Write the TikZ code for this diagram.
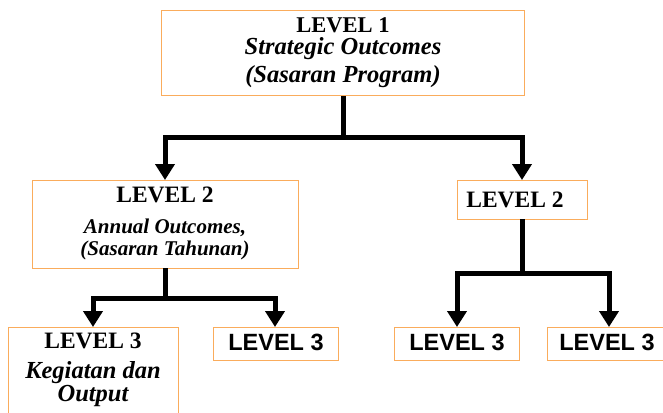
\documentclass[tikz,border=0pt]{standalone}
\usepackage{fontspec}
\setmainfont{Liberation Serif}
\newfontfamily\sansbold{Liberation Sans}
\usetikzlibrary{arrows.meta}
\definecolor{boxorange}{RGB}{250,172,92}
\tikzset{
  box/.style={draw=boxorange, line width=1pt, fill=white, inner sep=0pt, anchor=north west},
  conn/.style={line width=5pt, line join=miter, -{Triangle[width=19pt,length=16pt]}},
  lvl/.style={anchor=base, inner sep=0pt, font=\fontsize{23.5}{25}\selectfont\bfseries},
  lvlsans/.style={anchor=base, inner sep=0pt, font=\fontsize{23.5}{25}\selectfont\sansbold\bfseries},
  sub/.style={anchor=base, inner sep=0pt, font=\fontsize{21}{23}\selectfont\bfseries\itshape},
  subbig/.style={anchor=base, inner sep=0pt, font=\fontsize{24.5}{26}\selectfont\bfseries\itshape}
}
\begin{document}
\begin{tikzpicture}[x=1pt,y=-1pt]
\useasboundingbox (0,0) rectangle (663,412);
% boxes
\node[box, minimum width=363pt, minimum height=85pt] (l1) at (161,10) {};
\node[box, minimum width=266pt, minimum height=88pt] (l2a) at (32,180) {};
\node[box, minimum width=130pt, minimum height=39pt] (l2b) at (457,180) {};
\node[box, minimum width=170pt, minimum height=100pt] (l3a) at (8,327) {};
\node[box, minimum width=125pt, minimum height=33pt] (l3b) at (213,327) {};
\node[box, minimum width=125pt, minimum height=33pt] (l3c) at (394,327) {};
\node[box, minimum width=120pt, minimum height=33pt] (l3d) at (547,327) {};
% texts
\node[lvl, font=\fontsize{22.5}{24}\selectfont\bfseries] (t1) at (343,33) {LEVEL 1};
\node[subbig] (t1a) at (343,55) {Strategic Outcomes};
\node[subbig] (t1b) at (343,82) {(Sasaran Program)};
\node[lvl] (t2) at (165,202) {LEVEL 2};
\node[sub] (t2a) at (165,233) {Annual Outcomes,};
\node[sub] (t2b) at (165,255) {(Sasaran Tahunan)};
\node[lvl] (t2r) at (515,207) {LEVEL 2};
\node[lvl] (t3) at (93,348) {LEVEL 3};
\node[inner sep=0pt, anchor=north, align=center, font=\fontsize{24.5}{23}\selectfont\bfseries\itshape] (t3a) at (93,361) {Kegiatan dan\\Output};
\node[lvlsans] (t3r1) at (276,350) {LEVEL 3};
\node[lvlsans] (t3r2) at (457,350) {LEVEL 3};
\node[lvlsans] (t3r3) at (607,350) {LEVEL 3};
% connectors
\coordinate (j1) at (343,137);
\coordinate (j2) at (165,298);
\coordinate (j3) at (522,273);
\draw[conn] (l1.south) -- (j1) -| (165,180);
\draw[conn] (l1.south) -- (j1) -| (522,180);
\draw[conn] (165,268) -- (j2) -| (93,327);
\draw[conn] (165,268) -- (j2) -| (275,327);
\draw[conn] (522,219) -- (j3) -| (457,327);
\draw[conn] (522,219) -- (j3) -| (609,327);
\end{tikzpicture}
\end{document}
